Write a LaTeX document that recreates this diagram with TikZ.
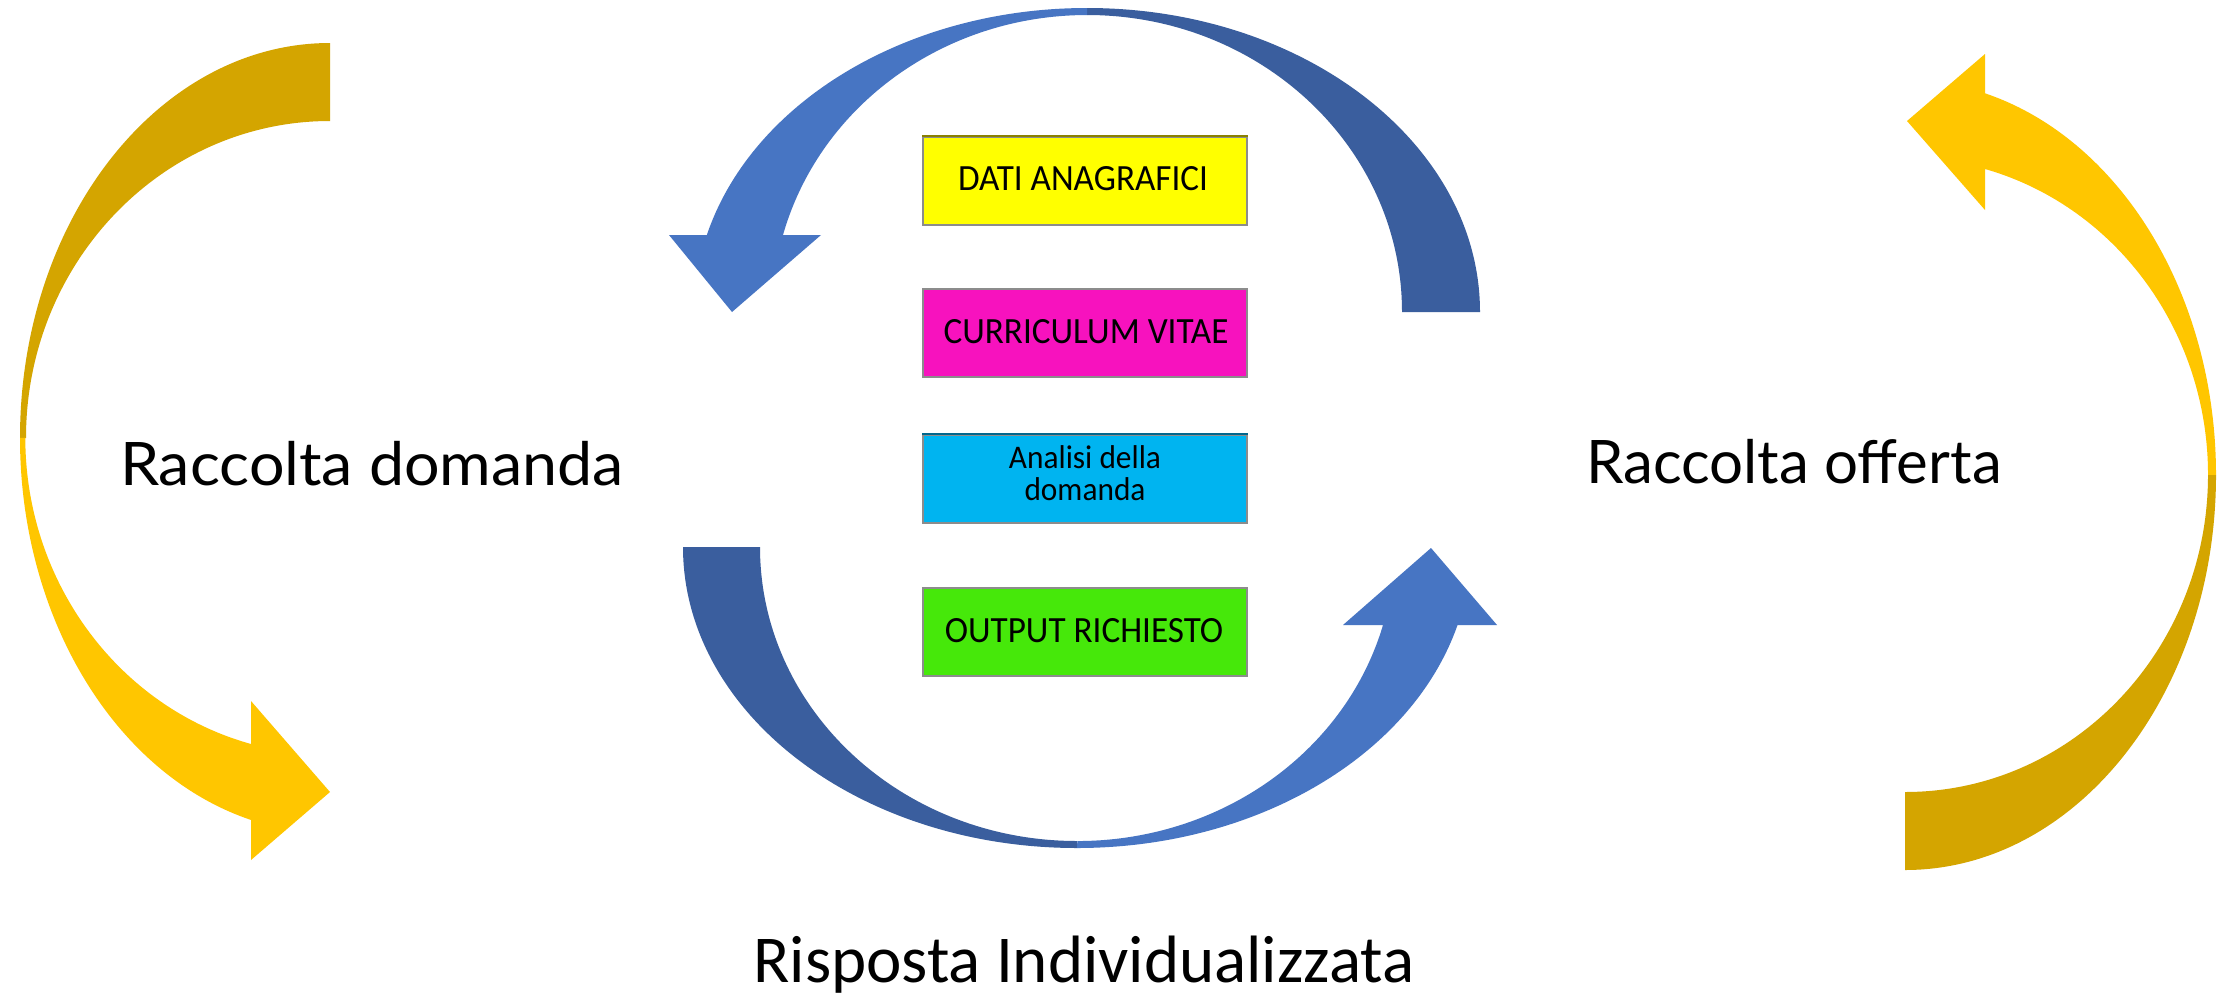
\documentclass[tikz,border=0pt]{standalone}
\usepackage{fontspec}
\setmainfont{Carlito}
\newfontfamily\labfont{Lato}
\definecolor{golddark}{HTML}{D4A500}
\definecolor{goldlight}{HTML}{FFC600}
\definecolor{bluedark}{HTML}{3A5E9E}
\definecolor{bluelight}{HTML}{4775C3}
\definecolor{boxgray}{HTML}{8C8C8C}
\definecolor{cyellow}{HTML}{FFFF00}
\definecolor{cmagenta}{HTML}{F712BE}
\definecolor{ccyan}{HTML}{00B4F0}
\definecolor{cgreen}{HTML}{46E80A}
\definecolor{olive}{HTML}{8A8000}
\definecolor{teal}{HTML}{00668C}
\begin{document}
\begin{tikzpicture}[x=1pt,y=-1pt,
  gdark/.style={fill=golddark},
  glight/.style={fill=goldlight},
  bdark/.style={fill=bluedark},
  blight/.style={fill=bluelight},
  infobox/.style={draw=boxgray,line width=2pt,minimum width=324pt,minimum height=88pt,inner sep=0pt},
  boxtext/.style={anchor=base,inner sep=0pt,font=\fontsize{37}{37}\selectfont},
  smalltext/.style={anchor=base,inner sep=0pt,font=\fontsize{33}{33}\selectfont},
  biglab/.style={anchor=base,inner sep=0pt,font=\labfont\fontsize{60}{60}\selectfont},
  botlab/.style={anchor=base,inner sep=0pt,font=\fontsize{67}{67}\selectfont}]
\useasboundingbox (0,0) rectangle (2236,997);
\fill[white] (0,0) rectangle (2236,997);

% left yellow arrow
\path[gdark] (330,43) arc[start angle=270,end angle=180,x radius=310,y radius=395]
  -- (26,438) arc[start angle=180,end angle=270,x radius=304,y radius=317] -- cycle;
\path[glight] (20,438) arc[start angle=180,end angle=104.76,x radius=310,y radius=395]
  -- (251,860) -- (330,792) -- (251,701) -- (251,744)
  arc[start angle=104.93,end angle=180,x radius=304,y radius=317] -- cycle;

% right yellow arrow
\path[gdark] (2216,475) arc[start angle=0,end angle=90,x radius=311,y radius=395]
  -- (1905,792) arc[start angle=90,end angle=0,x radius=303,y radius=317] -- cycle;
\path[glight] (2216,475) arc[start angle=360,end angle=284.91,x radius=311,y radius=395]
  -- (1985,54) -- (1907,121) -- (1985,210) -- (1985,169)
  arc[start angle=285.31,end angle=360,x radius=303,y radius=317] -- cycle;

% top blue arrow
\path[bdark] (1087,8) arc[start angle=270,end angle=360,x radius=393,y radius=304]
  -- (1402,312) arc[start angle=360,end angle=270,x radius=315,y radius=297] -- cycle;
\path[blight] (1087,8) arc[start angle=270,end angle=194.67,x radius=393,y radius=304]
  -- (669,235) -- (732,312) -- (821,235) -- (783,235)
  arc[start angle=195.03,end angle=270,x radius=315,y radius=297] -- cycle;

% bottom blue arrow
\path[bdark] (683,547) arc[start angle=180,end angle=90,x radius=394,y radius=301]
  -- (1077,841) arc[start angle=90,end angle=180,x radius=317,y radius=294] -- cycle;
\path[blight] (1077,848) arc[start angle=90,end angle=15.02,x radius=394,y radius=301]
  -- (1497,625) -- (1431,548) -- (1343,625) -- (1383,625)
  arc[start angle=15.38,end angle=90,x radius=317,y radius=294] -- cycle;

% boxes
\node[infobox,fill=cyellow] (b1) at (1085,180.5) {};
\draw[olive,line width=2pt] (b1.north west) -- (b1.north east);
\node[infobox,fill=cmagenta] (b2) at (1085,333) {};
\node[infobox,fill=ccyan] (b3) at (1085,478.5) {};
\draw[teal,line width=2pt] (b3.north west) -- (b3.north east);
\node[infobox,fill=cgreen] (b4) at (1085,632) {};

\node[boxtext] (t1) at (1083,190) {\scalebox{0.95}[1]{DATI ANAGRAFICI}};
\node[boxtext] (t2) at (1086,343) {\scalebox{0.95}[1]{CURRICULUM VITAE}};
\node[smalltext] (t3a) at (1085,468) {\scalebox{0.95}[1]{Analisi della}};
\node[smalltext] (t3b) at (1085,500) {\scalebox{0.95}[1]{domanda}};
\node[boxtext] (t4) at (1084,642) {\scalebox{0.95}[1]{OUTPUT RICHIESTO}};

% labels
\node[biglab] (ld) at (372,485) {\scalebox{1.046}[1]{Raccolta domanda}};
\node[biglab] (lo) at (1794,483) {Raccolta offerta};
\node[botlab] (lr) at (1084,982) {Risposta Individualizzata};
\end{tikzpicture}
\end{document}
